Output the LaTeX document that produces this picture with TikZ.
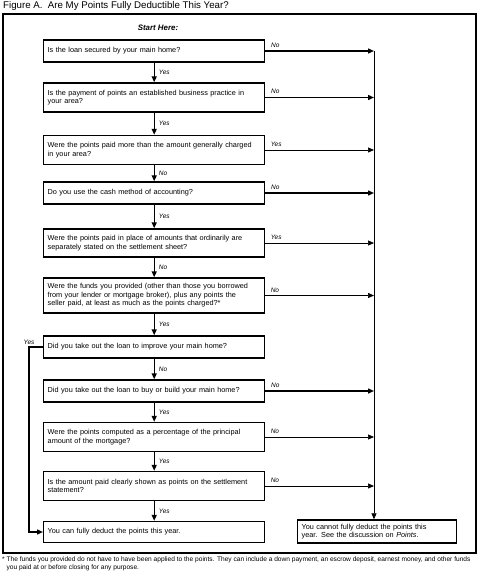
\documentclass[tikz,border=0pt]{standalone}
\usepackage{fontspec}
\setmainfont{Liberation Sans}
\usetikzlibrary{arrows.meta}

\tikzset{
  qbox/.style={draw, rectangle, line width=1.4pt, anchor=west, minimum width=220pt, minimum height=22pt,
    text width=213pt, inner xsep=4pt, align=left, font=\fontsize{7.3}{8.6}\selectfont},
  endbox/.style={qbox, minimum width=158pt, text width=151pt},
  thickarr/.style={-{Triangle[length=6pt,width=5pt]}, line width=1.4pt},
  thinarr/.style={-{Triangle[length=6pt,width=5pt]}, line width=0.7pt},
  ans/.style={font=\fontsize{6.5}{7.5}\selectfont\itshape, inner sep=1pt},
}

\begin{document}
\begin{tikzpicture}[x=1pt, y=-1pt]
\useasboundingbox (0,0) rectangle (479,577);

\node[anchor=west, inner sep=0pt, font=\fontsize{9.7}{11}\selectfont] (title) at (3,6) {Figure A.\ \ Are My Points Fully Deductible This Year?};
\draw[line width=1.4pt] (3,14) rectangle (476,553);
\node[font=\fontsize{7.9}{9}\selectfont\bfseries\itshape] (start) at (158,28) {Start Here:};

% question boxes
\node[qbox] (q1) at (43,51) {Is the loan secured by your main home?};
\node[qbox, minimum height=29pt] (q2) at (43,97.5) {Is the payment of points an established business practice in\\ your area?};
\node[qbox, minimum height=29pt] (q3) at (43,150) {Were the points paid more than the amount generally charged\\ in your area?};
\node[qbox] (q4) at (43,193) {Do you use the cash method of accounting?};
\node[qbox, minimum height=28pt] (q5) at (43,243) {Were the points paid in place of amounts that ordinarily are\\ separately stated on the settlement sheet?};
\node[qbox, minimum height=35pt] (q6) at (43,295.5) {Were the funds you provided (other than those you borrowed\\ from your lender or mortgage broker), plus any points the\\ seller paid, at least as much as the points charged?*};
\node[qbox] (q7) at (43,347) {Did you take out the loan to improve your main home?};
\node[qbox] (q8) at (43,391) {Did you take out the loan to buy or build your main home?};
\node[qbox, minimum height=29pt] (q9) at (43,437) {Were the points computed as a percentage of the principal\\ amount of the mortgage?};
\node[qbox, minimum height=29pt] (q10) at (43,486) {Is the amount paid clearly shown as points on the settlement\\ statement?};

% end boxes
\node[qbox, minimum height=21pt] (yes) at (43,532) {You can fully deduct the points this year.};
\node[endbox, minimum height=23pt] (no) at (297,531.5) {You cannot fully deduct the points this\\ year. See the discussion on \textit{Points}.};

\coordinate (rail) at (374,51);

% down arrows
\draw[thickarr] (q1) -- node[ans, right=3pt] {Yes} (q2);
\draw[thickarr] (q2) -- node[ans, right=3pt] {Yes} (q3);
\draw[thickarr] (q3) -- node[ans, right=3pt] {No} (q4);
\draw[thickarr] (q4) -- node[ans, right=3pt] {Yes} (q5);
\draw[thickarr] (q5) -- node[ans, right=3pt] {No} (q6);
\draw[thickarr] (q6) -- node[ans, right=3pt] {Yes} (q7);
\draw[thickarr] (q7) -- node[ans, right=3pt] {No} (q8);
\draw[thickarr] (q8) -- node[ans, right=3pt] {Yes} (q9);
\draw[thickarr] (q9) -- node[ans, right=3pt] {Yes} (q10);
\draw[thickarr] (q10) -- node[ans, right=3pt] {Yes} (yes);

% side arrows
\draw[thickarr] (q1.east) -- node[ans, pos=0, anchor=south west, xshift=4pt, yshift=2pt] {No} (q1.east -| rail);
\draw[thickarr] (q2.east) -- node[ans, pos=0, anchor=south west, xshift=4pt, yshift=2pt] {No} (q2.east -| rail);
\draw[thinarr] (q3.east) -- node[ans, pos=0, anchor=south west, xshift=4pt, yshift=2pt] {Yes} (q3.east -| rail);
\draw[thickarr] (q4.east) -- node[ans, pos=0, anchor=south west, xshift=4pt, yshift=2pt] {No} (q4.east -| rail);
\draw[thinarr] (q5.east) -- node[ans, pos=0, anchor=south west, xshift=4pt, yshift=2pt] {Yes} (q5.east -| rail);
\draw[thinarr] (q6.east) -- node[ans, pos=0, anchor=south west, xshift=4pt, yshift=2pt] {No} (q6.east -| rail);
\draw[thickarr] (q8.east) -- node[ans, pos=0, anchor=south west, xshift=4pt, yshift=2pt] {No} (q8.east -| rail);
\draw[thinarr] (q9.east) -- node[ans, pos=0, anchor=south west, xshift=4pt, yshift=2pt] {No} (q9.east -| rail);
\draw[thinarr] (q10.east) -- node[ans, pos=0, anchor=south west, xshift=4pt, yshift=2pt] {No} (q10.east -| rail);
\draw[thinarr] (rail) -- (rail |- no.north);

% yes route on the left
\draw[thickarr] (q7.west) -- ++(-14,0) node[ans, above=1pt] {Yes} |- (yes.west);

\node[anchor=north west, align=left, inner sep=0pt, font=\fontsize{6.6}{7.6}\selectfont] (note) at (2,557)
  {* The funds you provided do not have to have been applied to the points. They can include a down payment, an escrow deposit, earnest money, and other funds\\
  \phantom{*} you paid at or before closing for any purpose.};
\end{tikzpicture}
\end{document}
